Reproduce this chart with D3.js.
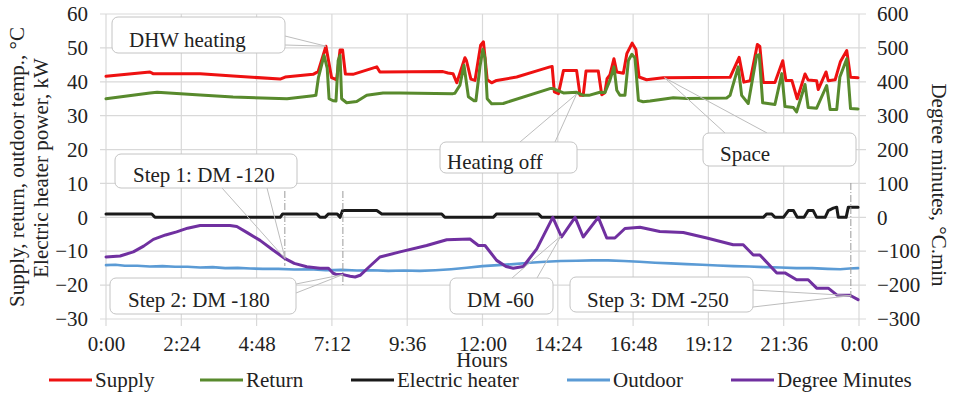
<!DOCTYPE html>
<html>
<head>
<meta charset="utf-8">
<script src="https://cdn.jsdelivr.net/npm/d3@7"></script>
<style>
  html, body { margin: 0; padding: 0; background: #fff; }
</style>
</head>
<body>
<svg id="chart" width="953" height="395" font-family="'Liberation Serif', Tinos, 'Times New Roman', 'DejaVu Serif', serif"></svg>
<script>
// ---- axis ticks ----
const hourTicks = [0, 2.4, 4.8, 7.2, 9.6, 12, 14.4, 16.8, 19.2, 21.6, 24];
const hourLabels = ["0:00", "2:24", "4:48", "7:12", "9:36", "12:00", "14:24", "16:48", "19:12", "21:36", "0:00"];
const tempTicks = [-30, -20, -10, 0, 10, 20, 30, 40, 50, 60];
const dmTicks = [-300, -200, -100, 0, 100, 200, 300, 400, 500, 600];

// ---- series: [hour, value] ----
const supply = [
  [0.00, 41.6], [1.40, 42.9], [1.50, 42.4], [3.00, 42.4], [4.05, 41.7], [5.55, 40.8], [5.71, 41.4],
  [6.60, 42.2], [6.76, 43.0], [7.01, 50.5], [7.19, 41.2], [7.35, 40.6], [7.46, 49.4], [7.54, 49.4],
  [7.63, 42.3], [7.87, 42.2], [8.63, 44.4], [8.73, 42.9], [10.74, 43.0], [10.90, 42.6], [11.06, 42.4],
  [11.18, 39.7], [11.44, 47.1], [11.49, 46.2], [11.63, 40.8], [11.76, 40.4], [11.94, 50.8], [12.03, 51.8],
  [12.15, 40.6], [12.29, 39.7], [12.45, 40.4], [13.09, 41.4], [13.73, 43.2], [14.15, 44.4], [14.22, 44.5],
  [14.29, 37.0], [14.42, 36.5], [14.58, 43.3], [15.00, 43.3], [15.11, 36.0], [15.21, 36.0], [15.30, 43.2],
  [15.69, 43.2], [15.80, 36.2], [15.90, 36.8], [15.97, 40.9], [16.06, 42.0], [16.19, 46.8], [16.28, 42.9],
  [16.49, 42.5], [16.60, 48.3], [16.77, 51.4], [16.89, 49.5], [16.99, 41.4], [17.23, 40.6], [17.76, 41.2],
  [19.89, 41.3], [20.18, 47.2], [20.33, 39.9], [20.53, 40.3], [20.76, 51.0], [20.84, 50.4], [20.95, 39.8],
  [21.32, 39.8], [21.57, 46.2], [21.67, 40.4], [21.86, 40.4], [22.03, 35.0], [22.28, 42.3], [22.38, 40.5],
  [22.65, 40.3], [22.70, 37.7], [22.95, 42.9], [23.02, 40.3], [23.24, 40.6], [23.41, 46.0], [23.61, 49.2],
  [23.73, 41.3], [23.97, 41.2]
];

const returnTemp = [
  [0.00, 35.0], [1.40, 36.7], [1.63, 36.9], [3.00, 36.1], [4.05, 35.5], [5.77, 35.0], [6.60, 35.9],
  [6.69, 36.0], [6.77, 41.2], [6.95, 47.8], [7.05, 44.0], [7.11, 35.0], [7.24, 34.4], [7.33, 34.3],
  [7.40, 46.3], [7.46, 47.8], [7.51, 35.0], [7.67, 33.8], [7.99, 34.2], [8.31, 36.0], [8.83, 36.7],
  [9.37, 36.7], [11.06, 36.5], [11.12, 36.6], [11.28, 39.0], [11.41, 44.9], [11.55, 35.6], [11.73, 34.4],
  [11.79, 34.4], [11.92, 44.5], [12.01, 49.5], [12.08, 47.0], [12.15, 35.0], [12.29, 33.5], [12.66, 33.6],
  [14.15, 38.0], [14.25, 38.0], [14.58, 36.7], [15.00, 36.9], [15.21, 36.0], [15.39, 36.0], [15.74, 36.9],
  [15.90, 36.8], [16.06, 40.4], [16.19, 44.4], [16.28, 37.5], [16.38, 36.0], [16.54, 36.0], [16.65, 46.3],
  [16.76, 48.1], [16.86, 47.0], [16.97, 34.5], [17.12, 34.1], [17.34, 34.3], [18.08, 35.3], [18.51, 35.1],
  [19.78, 35.2], [19.89, 36.0], [20.15, 44.4], [20.26, 36.0], [20.47, 33.6], [20.74, 47.8], [20.82, 48.0],
  [20.93, 33.8], [21.32, 33.3], [21.54, 42.4], [21.64, 32.7], [21.91, 32.4], [22.01, 31.1], [22.28, 39.2],
  [22.38, 32.4], [22.65, 32.2], [22.97, 38.9], [23.08, 31.8], [23.29, 31.8], [23.39, 41.4], [23.61, 46.8],
  [23.73, 32.1], [23.97, 32.0]
];

const electricHeater = [
  [0.00, 1], [1.46, 1], [1.56, 0], [5.55, 0], [5.63, 1], [6.72, 1], [6.82, 0], [6.98, 0], [7.09, 1],
  [7.37, 1], [7.46, 0], [7.54, 2], [8.63, 2], [8.79, 1], [10.70, 1], [10.80, 0], [12.34, 0], [12.45, 1],
  [13.78, 1], [13.89, 0], [20.95, 0], [21.06, 1], [21.22, 1], [21.32, 0], [21.59, 0], [21.75, 2],
  [21.91, 2], [22.03, 0], [22.25, 0], [22.38, 2], [22.54, 2], [22.65, 0], [22.92, 0], [23.02, 2],
  [23.18, 2.7], [23.29, 3], [23.34, 0], [23.59, 0], [23.66, 3], [23.77, 3], [23.97, 3]
];

const outdoor = [
  [0.00, -14.1], [0.30, -14.0], [0.60, -14.3], [1.00, -14.3], [1.40, -14.5], [1.80, -14.4], [2.20, -14.6],
  [2.60, -14.6], [3.00, -14.8], [3.40, -14.7], [3.80, -15.0], [4.20, -14.9], [4.60, -15.1], [5.00, -15.2],
  [5.50, -15.2], [6.00, -15.4], [6.50, -15.3], [7.00, -15.6], [7.50, -15.5], [8.00, -15.7], [8.50, -15.6],
  [9.00, -15.8], [9.50, -15.7], [10.00, -15.8], [10.50, -15.6], [11.00, -15.3], [11.50, -14.9],
  [12.00, -14.4], [12.50, -14.1], [13.00, -13.8], [13.50, -13.4], [14.00, -13.1], [14.50, -12.9],
  [15.00, -12.8], [15.50, -12.7], [16.00, -12.7], [16.50, -12.9], [17.00, -13.1], [17.50, -13.4],
  [18.00, -13.6], [18.50, -13.8], [19.00, -14.0], [19.50, -14.2], [20.00, -14.4], [20.50, -14.5],
  [21.00, -14.7], [21.50, -14.8], [22.00, -15.0], [22.50, -15.0], [23.00, -15.2], [23.40, -15.3],
  [23.70, -15.1], [23.97, -15.0]
];

const degreeMinutes = [
  [0.00, -117], [0.45, -114], [0.87, -102], [1.20, -85], [1.51, -65], [1.90, -52], [2.25, -43], [2.60, -32],
  [3.00, -24], [3.95, -24], [4.17, -27], [4.50, -45], [4.91, -68], [5.30, -95], [5.71, -122], [6.00, -136],
  [6.40, -146], [6.82, -150], [7.09, -150], [7.24, -165], [7.35, -169], [7.56, -169], [7.78, -174],
  [7.94, -176], [8.10, -171], [8.40, -145], [8.73, -117], [9.37, -102], [10.22, -83], [10.86, -66],
  [11.60, -64], [11.87, -83], [12.08, -83], [12.45, -127], [12.75, -145], [12.98, -150], [13.30, -145],
  [13.73, -93], [14.24, 0], [14.52, -58], [14.95, 0], [15.21, -58], [15.69, 0], [15.96, -61], [16.22, -61],
  [16.54, -33], [17.02, -29], [17.65, -42], [18.40, -45], [19.15, -61], [19.99, -81], [20.31, -81],
  [20.63, -111], [20.84, -111], [21.38, -164], [21.64, -164], [22.01, -184], [22.38, -184], [22.65, -209],
  [23.02, -209], [23.29, -229], [23.71, -230], [23.97, -243]
];

const seriesNames = ["Supply", "Return", "Electric heater", "Outdoor", "Degree Minutes"];
const seriesColors = ["#ee1111", "#588a2d", "#1a1a1a", "#5b9bd5", "#7030a0"];

// ---- layout ----
const svg = d3.select("#chart");
const plot = { left: 106, right: 859, top: 14, bottom: 319 };

const x = d3.scaleLinear().domain([0, 24]).range([plot.left, plot.right]);
const yL = d3.scaleLinear().domain([-30, 60]).range([plot.bottom, plot.top]);
const yR = d3.scaleLinear().domain([-300, 600]).range([plot.bottom, plot.top]);

const gridColor = "#d9d9d9";
const fontSize = 21;
const textColor = "#222";

// gridlines with short tick overhangs
const grid = svg.append("g");
grid.selectAll("line.h").data(tempTicks).join("line")
  .attr("x1", plot.left - 6).attr("x2", plot.right + 7)
  .attr("y1", d => yL(d)).attr("y2", d => yL(d))
  .attr("stroke", gridColor).attr("stroke-width", 1.2);
grid.selectAll("line.v").data(hourTicks).join("line")
  .attr("y1", plot.top).attr("y2", plot.bottom + 7)
  .attr("x1", d => x(d)).attr("x2", d => x(d))
  .attr("stroke", gridColor).attr("stroke-width", 1.2);

// axis label styling: drop d3's default font so the svg family is inherited
function styleAxis(g) {
  g.attr("font-family", null).attr("font-size", null);
  g.select(".domain").remove();
  g.selectAll("text").attr("font-size", fontSize).attr("fill", textColor);
}

svg.append("g").attr("transform", `translate(${plot.left},0)`)
  .call(d3.axisLeft(yL).tickValues(tempTicks).tickSize(0).tickPadding(18))
  .call(styleAxis);

svg.append("g").attr("transform", `translate(${plot.right},0)`)
  .call(d3.axisRight(yR).tickValues(dmTicks).tickSize(0).tickPadding(18))
  .call(styleAxis);

svg.append("g").attr("transform", `translate(0,${plot.bottom})`)
  .call(d3.axisBottom(x).tickValues(hourTicks).tickFormat((d, i) => hourLabels[i]).tickSize(0).tickPadding(17))
  .call(styleAxis);

// axis titles
const titles = svg.append("g").attr("font-size", fontSize).attr("fill", textColor).attr("text-anchor", "middle");
titles.append("text").attr("transform", "translate(24,167) rotate(-90)")
  .text("Supply, return, outdoor temp., °C");
titles.append("text").attr("transform", "translate(48,168) rotate(-90)")
  .text("Electric heater power, kW");
titles.append("text").attr("transform", "translate(932,185) rotate(90)")
  .text("Degree minutes, °C.min");
titles.append("text").attr("x", 482).attr("y", 367).text("Hours");

// ---- series lines ----
const lineL = d3.line().x(d => x(d[0])).y(d => yL(d[1]));
const lineR = d3.line().x(d => x(d[0])).y(d => yR(d[1]));
const lines = svg.append("g").attr("fill", "none").attr("stroke-linejoin", "round").attr("stroke-linecap", "round");

const seriesData = [
  { data: supply, gen: lineL, w: 3 },
  { data: returnTemp, gen: lineL, w: 3 },
  { data: electricHeater, gen: lineL, w: 3 },
  { data: outdoor, gen: lineL, w: 2.6 },
  { data: degreeMinutes, gen: lineR, w: 3 }
];
seriesData.forEach((s, i) => {
  lines.append("path").attr("d", s.gen(s.data))
    .attr("stroke", seriesColors[i]).attr("stroke-width", s.w);
});

// ---- step markers (dash-dot verticals) ----
const stepMarkers = [
  { hour: 5.70, top: 191, bottom: 266 },
  { hour: 7.55, top: 191, bottom: 287 },
  { hour: 23.74, top: 183, bottom: 300 }
];
svg.append("g").selectAll("line").data(stepMarkers).join("line")
  .attr("x1", d => x(d.hour)).attr("x2", d => x(d.hour))
  .attr("y1", d => d.top).attr("y2", d => d.bottom)
  .attr("stroke", "#9a9a9a").attr("stroke-width", 1)
  .attr("stroke-dasharray", "7,2,1,2");

// ---- callouts ----
// target: [hour, value, axis]; box in pixels; wedge: two base points on the box edge
const callouts = [
  { text: "DHW heating", box: [112, 17, 173, 36], tx: 17, ty: 30, target: [7.01, 50.5, "L"], base: [[285, 36], [285, 45]] },
  { text: "Heating off", box: [440, 142, 137, 31], tx: 7, ty: 27, target: [15.0, 36.4, "L"], base: [[520, 142], [555, 142]] },
  { text: "Space", box: [703, 133, 153, 33], tx: 17, ty: 28, target: [17.8, 41.2, "L"], base: [[725, 133], [767, 133]] },
  { text: "Step 1: DM -120", box: [115, 154, 182, 34], tx: 18, ty: 28, target: [5.71, -122, "R"], base: [[222, 188], [267, 188]] },
  { text: "Step 2: DM -180", box: [110, 278, 186, 36], tx: 18, ty: 29, target: [7.55, -169, "R"], base: [[296, 284], [296, 293]] },
  { text: "DM -60", box: [450, 278, 103, 36], tx: 17, ty: 29, target: [14.5, -55, "R"], base: [[512, 278], [537, 278]] },
  { text: "Step 3: DM -250", box: [570, 277, 183, 35], tx: 17, ty: 30, target: [23.74, -231, "R"], base: [[753, 290], [753, 307]] }
];

const cg = svg.append("g");
callouts.forEach(c => {
  const tp = [x(c.target[0]), c.target[2] === "L" ? yL(c.target[1]) : yR(c.target[1])];
  c.base.forEach(b => {
    cg.append("line").attr("x1", b[0]).attr("y1", b[1]).attr("x2", tp[0]).attr("y2", tp[1])
      .attr("stroke", "#bdbdbd").attr("stroke-width", 1);
  });
  cg.append("rect").attr("x", c.box[0]).attr("y", c.box[1]).attr("width", c.box[2]).attr("height", c.box[3])
    .attr("rx", 6).attr("fill", "#fff").attr("stroke", "#c4c4c4").attr("stroke-width", 1);
  cg.append("text").attr("x", c.box[0] + c.tx).attr("y", c.box[1] + c.ty)
    .attr("font-size", fontSize).attr("fill", textColor).text(c.text);
});

// ---- legend ----
const legendX = [49, 200, 351, 567, 731];
const legend = svg.append("g");
seriesNames.forEach((name, i) => {
  legend.append("line").attr("x1", legendX[i]).attr("x2", legendX[i] + 43)
    .attr("y1", 380).attr("y2", 380)
    .attr("stroke", seriesColors[i]).attr("stroke-width", 3);
  legend.append("text").attr("x", legendX[i] + 46).attr("y", 387)
    .attr("font-size", fontSize).attr("fill", textColor).text(name);
});
</script>
</body>
</html>
